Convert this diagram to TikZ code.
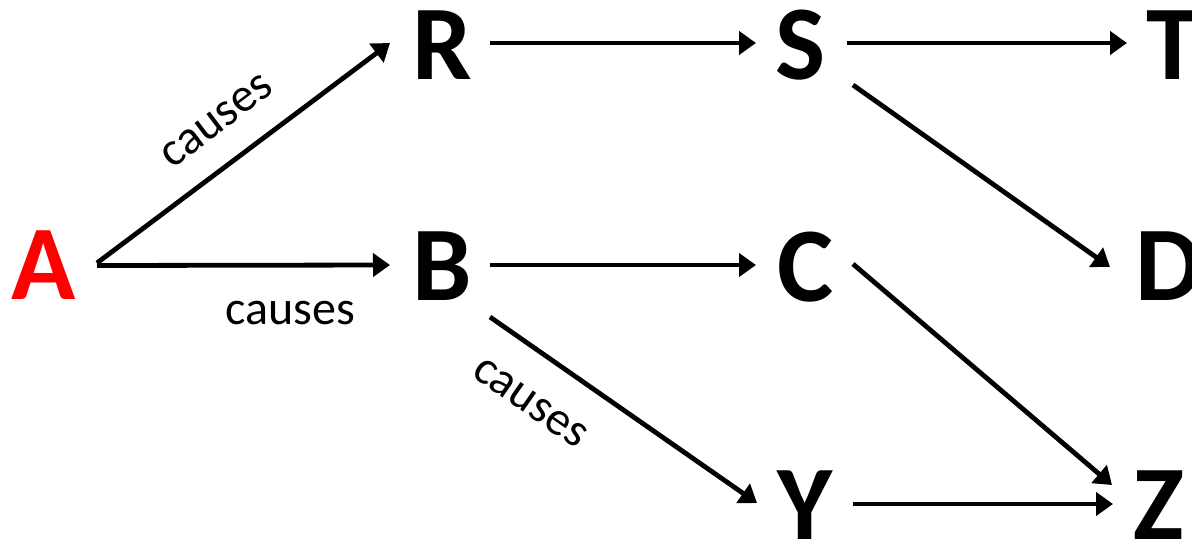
\documentclass[tikz,border=0pt]{standalone}
\usepackage{fontspec}
\setmainfont{Carlito}
\usetikzlibrary{arrows.meta}
\definecolor{nodered}{RGB}{255,0,0}
\tikzset{
  letter/.style={inner sep=0pt, font=\fontsize{106}{106}\selectfont\bfseries, text=black},
  lbl/.style={inner sep=0pt, font=\fontsize{48}{48}\selectfont, text=black},
  arr/.style={line width=4.8pt, -{Triangle[length=17pt,width=23pt]}},
}
\begin{document}
\begin{tikzpicture}[x=1pt,y=-1pt]
\useasboundingbox (0,0) rectangle (1192,541);
% nodes
\node[letter, text=nodered] (A) at (44,265.5) {A};
\node[letter] (R) at (442,45.5) {R};
\node[letter] (S) at (801,45) {S};
\node[letter] (T) at (1173,45.5) {T};
\node[letter] (B) at (442,266.5) {B};
\node[letter] (C) at (806,267) {C};
\node[letter] (D) at (1169,266) {D};
\node[letter] (Y) at (805,505.5) {Y};
\node[letter] (Z) at (1158.5,505) {Z};
% arrows
\draw[arr] ([shift={(53,-2.5)}]A.center) -- ([shift={(-52,-2.5)}]R.center);
\draw[arr] ([shift={(53,0)}]A.center) -- ([shift={(-52,-1.5)}]B.center);
\draw[arr] ([shift={(48,-2.5)}]R.center) -- ([shift={(-45,-2)}]S.center);
\draw[arr] ([shift={(46,-2)}]S.center) -- ([shift={(-46,-2.5)}]T.center);
\draw[arr] ([shift={(52,40)}]S.center) -- ([shift={(-59,1)}]D.center);
\draw[arr] ([shift={(48,-1.5)}]B.center) -- ([shift={(-50,-2)}]C.center);
\draw[arr] ([shift={(47,-3)}]C.center) -- ([shift={(-46.5,-20)}]Z.center);
\draw[arr] ([shift={(48,50.5)}]B.center) -- ([shift={(-48,-2.5)}]Y.center);
\draw[arr] ([shift={(48,-1.5)}]Y.center) -- ([shift={(-45.5,-1)}]Z.center);
% labels
\node[lbl, rotate=37] (l1) at (217,121) {causes};
\node[lbl, anchor=base] (l2) at (290,324) {causes};
\node[lbl, rotate=-35] (l3) at (530,403) {causes};
\end{tikzpicture}
\end{document}
